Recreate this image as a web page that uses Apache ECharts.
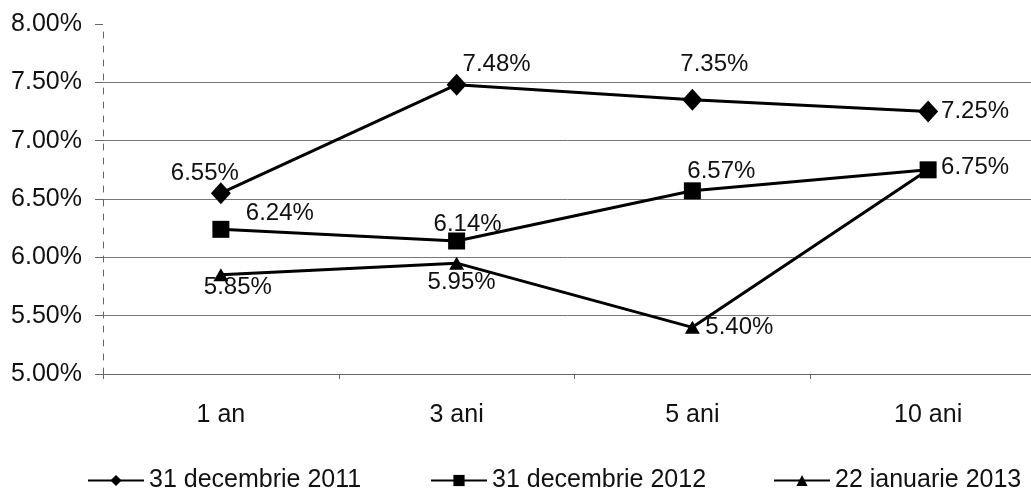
<!DOCTYPE html>
<html>
<head>
<meta charset="utf-8">
<script src="https://cdn.jsdelivr.net/npm/echarts@6/dist/echarts.min.js"></script>
<style>
  html, body { margin: 0; padding: 0; background: #fff; }
  #chart { width: 1031px; height: 490px; }
</style>
</head>
<body>
<div id="chart"></div>
<script>
  // data
  var categories = ['1 an', '3 ani', '5 ani', '10 ani'];
  var seriesNames = ['31 decembrie 2011', '31 decembrie 2012', '22 ianuarie 2013'];
  var dec2011 = [6.55, 7.48, 7.35, 7.25];
  var dec2012 = [6.24, 6.14, 6.57, 6.75];
  var ian2013 = [5.85, 5.95, 5.40, 6.75];
  var yTicks = [5.0, 5.5, 6.0, 6.5, 7.0, 7.5, 8.0];

  // where each value label sits around its marker (null = no label)
  var labelOffsets = [
    [[-16, -20], [40, -20], [22, -35], [47, 0]],
    [[59, -16], [11, -17], [29, -19], [47, -2]],
    [[17, 13], [5, 19], [47, 0], null]
  ];
  var symbols = [
    { symbol: 'diamond', size: [20, 22] },
    { symbol: 'rect', size: [17, 17] },
    { symbol: 'triangle', size: [15, 13] }
  ];
  var legendLeft = [87, 430, 773];

  var font = 'Liberation Sans, Arial, Helvetica, sans-serif';

  function buildData(values, offsets) {
    return values.map(function (v, i) {
      var off = offsets[i];
      return {
        value: v,
        label: off ? { show: true, position: 'inside', offset: off } : { show: false }
      };
    });
  }

  var allValues = [dec2011, dec2012, ian2013];

  var series = allValues.map(function (vals, k) {
    return {
      name: seriesNames[k],
      type: 'line',
      data: buildData(vals, labelOffsets[k]),
      symbol: symbols[k].symbol,
      symbolSize: symbols[k].size,
      showAllSymbol: true,
      z: 3 - k,
      lineStyle: { color: '#000', width: 3 },
      itemStyle: { color: '#000' },
      label: {
        color: '#111',
        fontFamily: font,
        fontSize: 24,
        align: 'center',
        verticalAlign: 'middle',
        formatter: function (p) { return p.value.toFixed(2) + '%'; }
      },
      animation: false
    };
  });

  var legends = seriesNames.map(function (name, k) {
    return {
      data: [name],
      left: legendLeft[k],
      top: 468,
      padding: 0,
      itemWidth: 56,
      itemHeight: 14,
      itemGap: 0,
      textStyle: { color: '#111', fontFamily: font, fontSize: 25 },
      selectedMode: false
    };
  });

  var gridColors = yTicks.map(function (t, i) {
    return i === yTicks.length - 1 ? 'rgba(0,0,0,0)' : '#777';
  });

  var chart = echarts.init(document.getElementById('chart'), null, { renderer: 'canvas' });
  chart.setOption({
    backgroundColor: '#fff',
    animation: false,
    // plot runs past the right edge, as in the source image
    grid: { left: 103, width: 943, top: 24, height: 350, containLabel: false, outerBoundsMode: 'none' },
    legend: legends,
    xAxis: {
      type: 'category',
      data: categories,
      boundaryGap: true,
      axisLine: { show: true, lineStyle: { color: '#666', width: 1 } },
      axisTick: { show: true, length: 5, lineStyle: { color: '#666' } },
      axisLabel: { color: '#111', fontFamily: font, fontSize: 25, margin: 29 }
    },
    yAxis: {
      type: 'value',
      min: yTicks[0],
      max: yTicks[yTicks.length - 1],
      interval: 0.5,
      axisLine: { show: true, lineStyle: { color: '#666', width: 1, type: [6, 8] } },
      axisTick: { show: true, length: 8, lineStyle: { color: '#666' } },
      axisLabel: {
        color: '#111',
        fontFamily: font,
        fontSize: 25,
        margin: 21,
        formatter: function (v) { return v.toFixed(2) + '%'; }
      },
      splitLine: { show: true, lineStyle: { color: gridColors, width: 1 } }
    },
    series: series
  });
</script>
</body>
</html>
